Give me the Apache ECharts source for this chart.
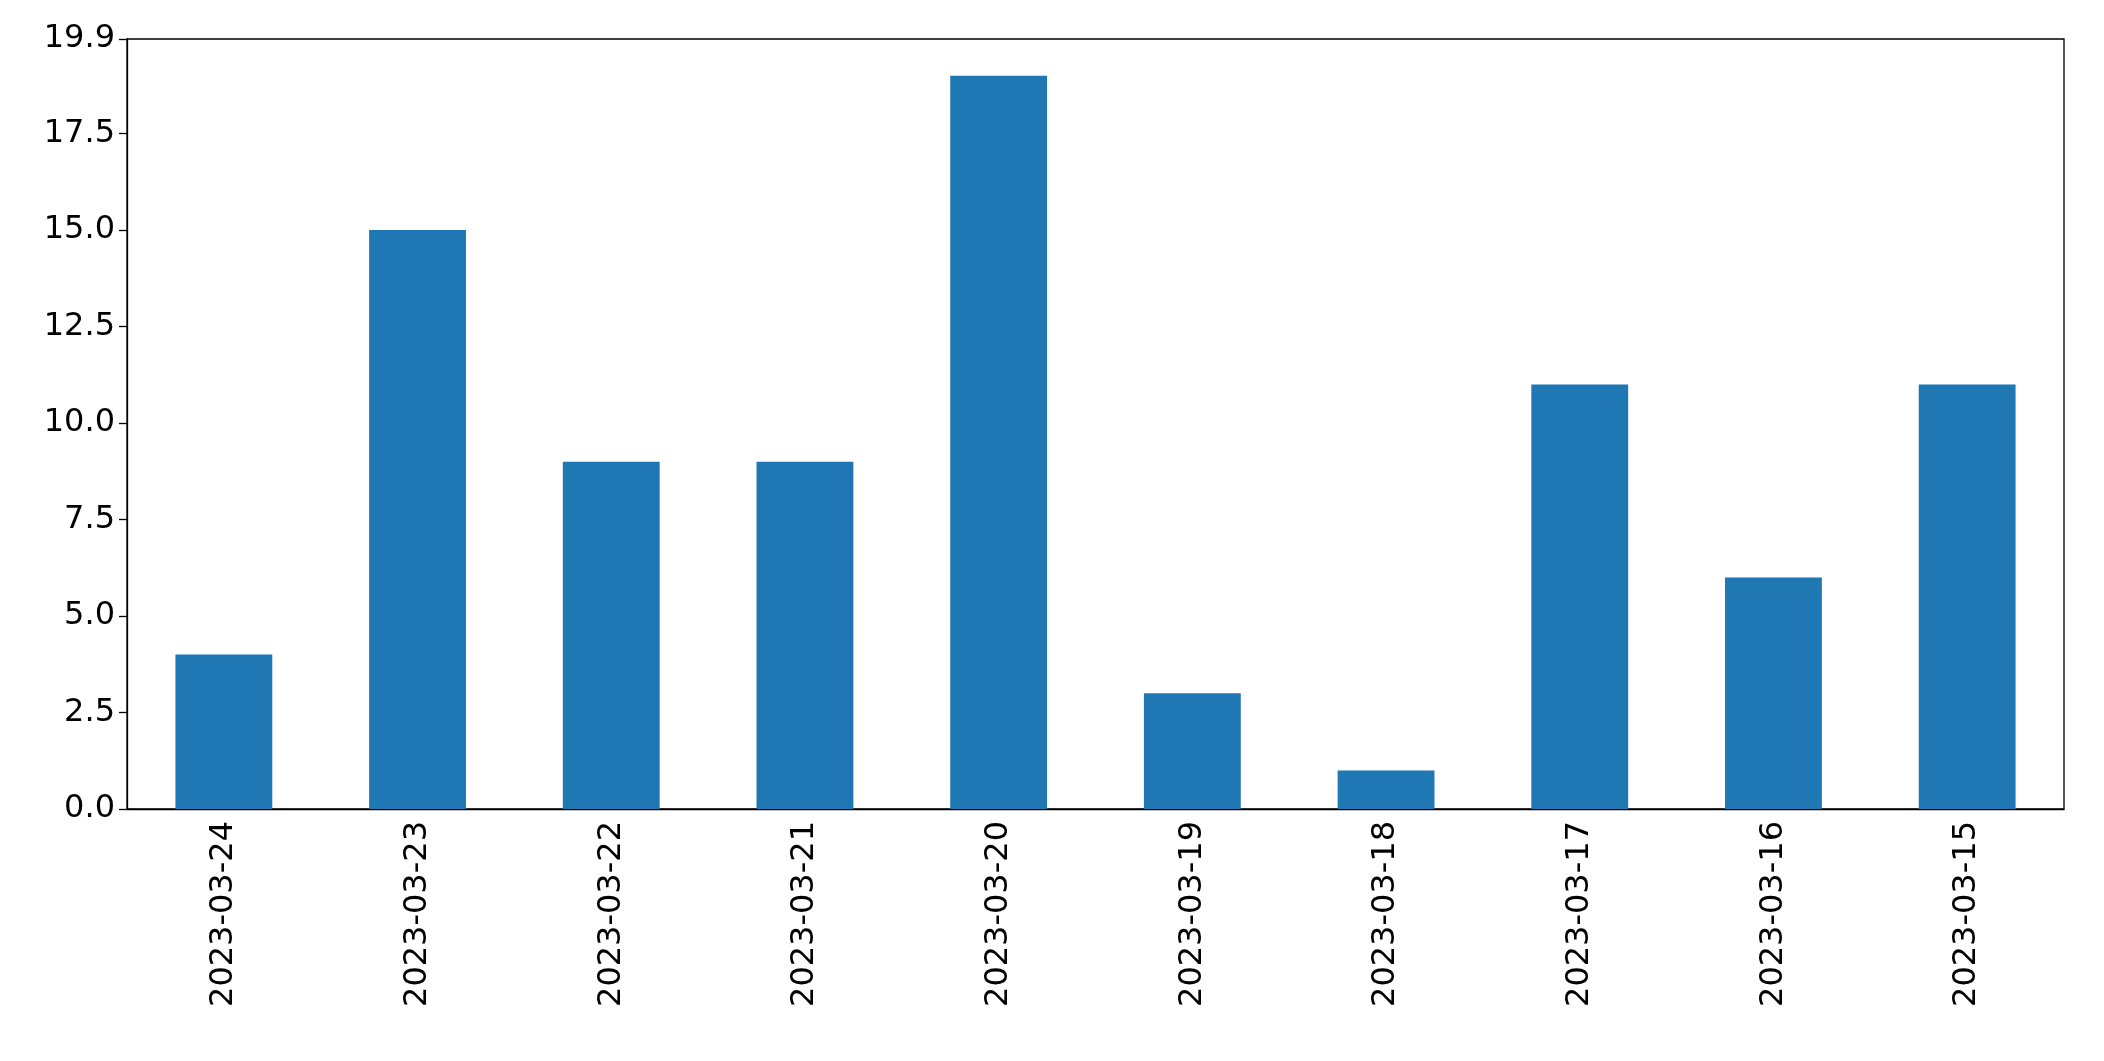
<!DOCTYPE html>
<html>
<head>
<meta charset="utf-8">
<script src="https://cdn.jsdelivr.net/npm/echarts@6/dist/echarts.min.js"></script>
<style>html,body{margin:0;padding:0;background:#fff;}#chart{width:2104px;height:1061px;}</style>
</head>
<body>
<div id="chart"></div>
<script>
var dates = ['2023-03-24', '2023-03-23', '2023-03-22', '2023-03-21', '2023-03-20',
             '2023-03-19', '2023-03-18', '2023-03-17', '2023-03-16', '2023-03-15'];
var counts = [4, 15, 9, 9, 19, 3, 1, 11, 6, 11];

var chart = echarts.init(document.getElementById('chart'));
chart.setOption({
    animation: false,
    grid: {
        left: 127, right: 40, top: 39, bottom: 252,
        show: true, borderColor: '#000', borderWidth: 1.3
    },
    xAxis: {
        type: 'category',
        data: dates,
        axisLine: {lineStyle: {color: '#000', width: 1.3}},
        axisTick: {alignWithLabel: true, length: 8, lineStyle: {color: '#000', width: 1.3}},
        axisLabel: {rotate: 90, color: '#000', fontSize: 32, fontFamily: 'DejaVu Sans', margin: 12, interval: 0}
    },
    yAxis: {
        type: 'value',
        min: 0, max: 19.95, interval: 2.5,
        splitLine: {show: false},
        axisLine: {show: true, lineStyle: {color: '#000', width: 1.3}},
        axisTick: {show: true, length: 8, lineStyle: {color: '#000', width: 1.3}},
        axisLabel: {
            color: '#000', fontSize: 32, fontFamily: 'DejaVu Sans', margin: 12,
            formatter: function (v) { return v.toFixed(1); }
        }
    },
    series: [{
        type: 'bar',
        data: counts,
        barWidth: '50%',
        itemStyle: {color: '#1f77b4'}
    }]
});
</script>
</body>
</html>
